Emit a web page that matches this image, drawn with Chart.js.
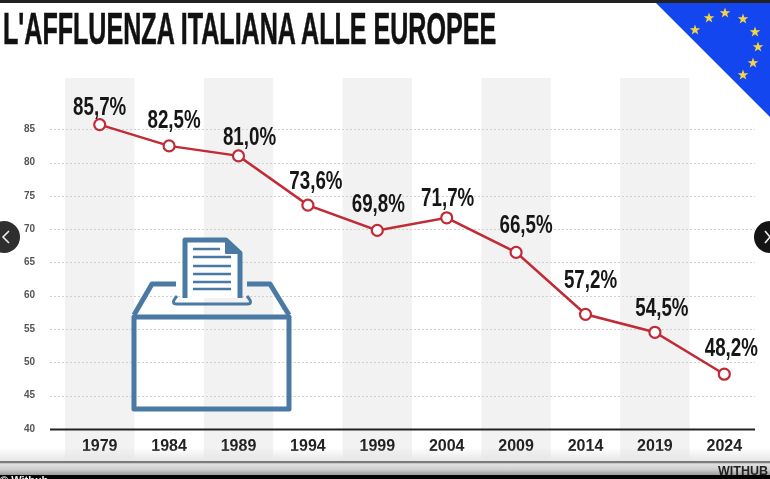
<!DOCTYPE html>
<html>
<head>
<meta charset="utf-8">
<script src="https://cdn.jsdelivr.net/npm/chart.js@4"></script>
<style>
  html, body { margin: 0; padding: 0; background: #fff; }
  #wrap { position: relative; width: 770px; height: 479px; overflow: hidden; }
  #chart { position: absolute; left: 0; top: 0; }
  #topLine { position: absolute; left: 0; top: 0; width: 770px; height: 3px; background: #222; }
  #title {
    position: absolute; left: 3px; top: 4px; white-space: nowrap;
    font: bold 44px "Liberation Sans", sans-serif;
    -webkit-text-stroke: 0.6px #111;
    color: #111; transform-origin: left top; transform: scaleX(0.57);
  }
  .overlay { position: absolute; left: 0; top: 0; }
  #fade {
    position: absolute; left: 0; top: 448px; width: 770px; height: 14px;
    background: linear-gradient(rgba(240,240,240,0), #e4e4e4);
  }
  #footer {
    position: absolute; left: 0; top: 461px; width: 770px; height: 14px;
    background: linear-gradient(#7c7c7c 0, #7c7c7c 12%, #e2e2e2 20%, #cfcfcf 60%, #9c9c9c 100%);
  }
  #footerDark { position: absolute; left: 0; top: 475px; width: 770px; height: 4px; background: #050505; }
  #brand { position: absolute; left: 718px; top: 464px; font: bold 12.5px "Liberation Sans", sans-serif; color: #222; }
  #credit { position: absolute; left: 0; top: 474px; font: bold 11px "Liberation Sans", sans-serif; color: #eee; }
  .nav { position: absolute; top: 221px; width: 32px; height: 32px; border-radius: 50%; background: #2f2f2f; }
  #navLeft { left: -12px; }
  #navRight { left: 754px; background: #141414; }
</style>
</head>
<body>
<div id="wrap">
  <canvas id="chart" width="770" height="479"></canvas>

  <svg class="overlay" width="770" height="479">
    <polygon points="656,3 770,3 770,117" fill="#1446ef"/>
    <g id="stars" fill="#f3d442"></g>
    <!-- ballot box -->
    <g fill="none" stroke="#4a7aa3" stroke-width="5" stroke-linejoin="round">
      <rect x="134" y="317" width="155" height="92"/>
      <path d="M134 315 L152 284 H176"/>
      <path d="M289 315 L270 284 H247"/>
      <path d="M177 296 Q170 304 177 304 H247 Q254 304 247 296" stroke-width="3"/>
      <path d="M185 298 V240 H226 L240 253 V298" fill="#fff"/>
      <path d="M226 240 V253 H240 Z" fill="#4a7aa3" stroke-width="2"/>
      <g stroke-width="2.5">
        <path d="M193 249 H220"/>
        <path d="M193 257 H231"/>
        <path d="M193 266 H231"/>
        <path d="M193 274 H231"/>
        <path d="M193 282 H231"/>
        <path d="M193 289 H231"/>
      </g>
    </g>
  </svg>

  <div id="topLine"></div>
  <div id="title">L'AFFLUENZA ITALIANA ALLE EUROPEE</div>
  <div id="fade"></div>
  <div id="footer"></div>
  <div id="footerDark"></div>
  <div id="brand">WITHUB</div>
  <div id="credit">© Withub</div>
  <div class="nav" id="navLeft"></div>
  <div class="nav" id="navRight"></div>
  <svg class="overlay" width="770" height="479">
    <path d="M9 231 L3 237 L9 243" fill="none" stroke="#eee" stroke-width="1.6"/>
    <path d="M765 231 L770 237 L765 243" fill="none" stroke="#eee" stroke-width="1.6"/>
  </svg>
</div>

<script>
// ==== DATA ====
const years = ["1979", "1984", "1989", "1994", "1999", "2004", "2009", "2014", "2019", "2024"];
const turnout = [85.7, 82.5, 81.0, 73.6, 69.8, 71.7, 66.5, 57.2, 54.5, 48.2];
const turnoutLabels = ["85,7%", "82,5%", "81,0%", "73,6%", "69,8%", "71,7%", "66,5%", "57,2%", "54,5%", "48,2%"];
const yTicks = [40, 45, 50, 55, 60, 65, 70, 75, 80, 85];

// label nudges relative to each point (px)
const labelDx = [0, 5, 11, 8, 1, 1, 10, 5, 7, 7];
const labelDy = [-16, -25, -18, -23, -25, -19, -26, -33, -23, -25];

// EU stars in the corner
const starSpots = [[695, 30], [709, 18], [725, 13], [743, 19], [755, 32], [758, 47], [753, 63], [743, 75]];
const starsGroup = document.getElementById("stars");
starSpots.forEach(([cx, cy]) => {
  let pts = "";
  for (let i = 0; i < 10; i++) {
    const r = i % 2 === 0 ? 5.6 : 2.2;
    const a = -Math.PI / 2 + i * Math.PI / 5;
    pts += (cx + r * Math.cos(a)).toFixed(1) + "," + (cy + r * Math.sin(a)).toFixed(1) + " ";
  }
  const star = document.createElementNS("http://www.w3.org/2000/svg", "polygon");
  star.setAttribute("points", pts);
  starsGroup.appendChild(star);
});

// grey bands behind every other year
const bandsPlugin = {
  id: "bands",
  beforeDraw(chart) {
    const { ctx, scales: { x, y } } = chart;
    const step = x.getPixelForValue(1) - x.getPixelForValue(0);
    ctx.save();
    ctx.fillStyle = "#f2f2f2";
    years.forEach((yr, i) => {
      if (i % 2 !== 0) return;
      ctx.fillRect(x.getPixelForValue(i) - step / 2, y.top, step, 458 - y.top);
    });
    ctx.restore();
  }
};

// dotted grid and base line, they stick out left of the plot area
const gridLines = {
  id: "gridLines",
  beforeDatasetsDraw(chart) {
    const { ctx, scales: { y } } = chart;
    ctx.save();
    yTicks.forEach(v => {
      const py = Math.round(y.getPixelForValue(v)) + 0.5;
      ctx.beginPath();
      ctx.moveTo(50, py);
      ctx.lineTo(755, py);
      if (v === 40) {
        ctx.strokeStyle = "#222";
        ctx.lineWidth = 2;
        ctx.setLineDash([]);
      } else {
        ctx.strokeStyle = "#d0d0d0";
        ctx.lineWidth = 1;
        ctx.setLineDash([2, 2]);
      }
      ctx.stroke();
    });
    ctx.restore();
  }
};

// percentage labels above the points, squeezed because no condensed font is installed
const valueLabels = {
  id: "valueLabels",
  afterDatasetsDraw(chart) {
    const { ctx, scales: { x, y } } = chart;
    ctx.fillStyle = "#161616";
    ctx.textAlign = "center";
    ctx.textBaseline = "middle";
    ctx.font = 'bold 25px "Liberation Sans", sans-serif';
    turnoutLabels.forEach((txt, i) => {
      ctx.save();
      ctx.translate(x.getPixelForValue(i) + labelDx[i], y.getPixelForValue(turnout[i]) + labelDy[i]);
      ctx.scale(0.75, 1);
      ctx.fillText(txt, 0, 0);
      ctx.restore();
    });
  }
};

new Chart(document.getElementById("chart").getContext("2d"), {
  type: "line",
  data: {
    labels: years,
    datasets: [
      {
        data: turnout,
        borderColor: "#c22a35",
        borderWidth: 2.5,
        tension: 0,
        pointRadius: 5.5,
        pointBorderWidth: 2.2,
        pointBackgroundColor: "#fff",
        pointBorderColor: "#c22a35"
      }
    ]
  },
  options: {
    responsive: false,
    animation: false,
    layout: { padding: { left: 0, right: 11, top: 78, bottom: 23 } },
    plugins: { legend: { display: false }, tooltip: { enabled: false } },
    scales: {
      x: {
        offset: true,
        grid: { display: false },
        border: { display: false },
        ticks: {
          color: "#222",
          padding: 0,
          maxRotation: 0,
          font: { family: '"Liberation Sans", sans-serif', size: 16, weight: "bold" }
        }
      },
      y: {
        min: 40,
        max: 92.7,
        afterBuildTicks(axis) {
          axis.ticks = yTicks.map(v => ({ value: v }));
        },
        grid: { display: false },
        border: { display: false },
        afterFit(axis) { axis.width = 65; },
        ticks: {
          color: "#555",
          padding: 22,
          font: { family: '"Liberation Sans", sans-serif', size: 10, weight: "bold" }
        }
      }
    }
  },
  plugins: [bandsPlugin, gridLines, valueLabels]
});
</script>
</body>
</html>
